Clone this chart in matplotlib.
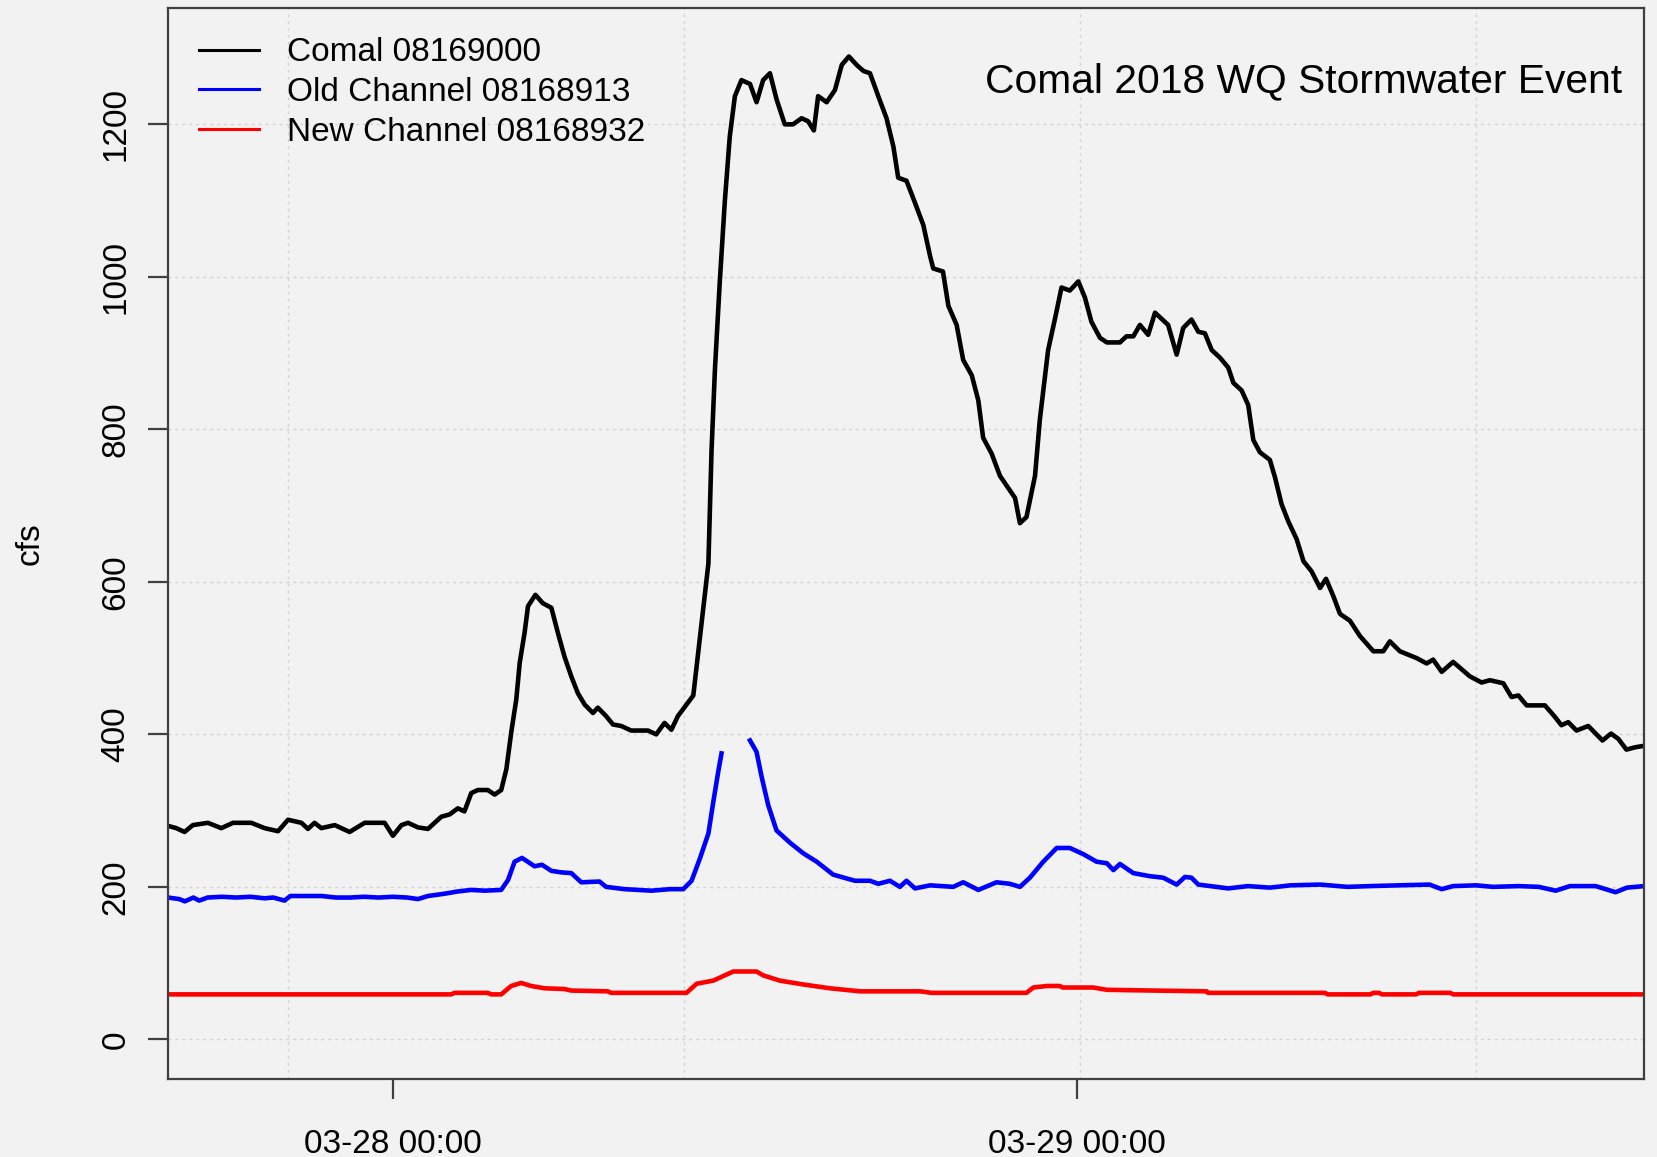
import numpy as np
import matplotlib
matplotlib.use("Agg")
import matplotlib.pyplot as plt

plt.rcParams['font.family'] = ['Liberation Sans', 'DejaVu Sans']

# hours relative to 03-28 00:00 (local), flow in cfs
comal_h = [-7.89, -7.6, -7.31, -7.02, -6.49, -6.02, -5.61, -4.97, -4.5, -4.03, -3.68, -3.21, -2.98,
           -2.75, -2.51, -2.04, -1.52, -0.99, -0.29, 0.0, 0.3, 0.53, 0.88, 1.23, 1.7, 1.99, 2.28,
           2.51, 2.75, 2.98, 3.33, 3.57, 3.8, 3.98, 4.15, 4.33, 4.45, 4.62, 4.74, 5.0, 5.26, 5.56,
           5.79, 6.02, 6.26, 6.49, 6.73, 7.02, 7.19, 7.48, 7.72, 8.01, 8.36, 8.95, 9.24, 9.53, 9.77,
           10.0, 10.54, 10.89, 11.07, 11.18, 11.30, 11.47, 11.65, 11.82, 12.0, 12.23, 12.53, 12.76,
           12.99, 13.23, 13.46, 13.75, 14.04, 14.34, 14.57, 14.77, 14.92, 15.22, 15.51, 15.75, 16.0,
           16.27, 16.51, 16.74, 17.03, 17.32, 17.56, 17.73, 18.02, 18.32, 18.61, 18.85, 18.96, 19.3,
           19.49, 19.78, 20.01, 20.31, 20.54, 20.71, 21.01, 21.3, 21.59, 21.83, 22.0, 22.23, 22.53,
           22.7, 22.99, 23.23, 23.46, 23.75, 24.05, 24.28, 24.51, 24.81, 25.05, 25.51, 25.74, 25.98,
           26.21, 26.5, 26.74, 26.97, 27.2, 27.5, 27.73, 28.02, 28.26, 28.49, 28.73, 29.02, 29.31,
           29.49, 29.78, 30.01, 30.19, 30.42, 30.77, 30.95, 31.18, 31.42, 31.71, 31.95, 32.23, 32.53,
           32.74, 33.0, 33.23, 33.58, 33.93, 34.40, 34.75, 34.98, 35.33, 35.92, 36.27, 36.5, 36.8,
           37.2, 37.79, 38.2, 38.49, 38.96, 39.25, 39.49, 39.78, 40.42, 40.77, 41.0, 41.24, 41.53,
           41.94, 42.44, 42.74, 43.0, 43.28, 43.58, 43.9]
comal_cfs = [280, 277, 272, 281, 284, 277, 284, 284, 277, 273, 288, 284, 276,
             284, 277, 281, 272, 284, 284, 267, 281, 284, 278, 276, 292, 295, 303,
             299, 323, 327, 327, 321, 327, 354, 402, 446, 494, 533, 568, 583, 572, 566,
             533, 502, 476, 454, 439, 428, 435, 424, 413, 411, 405, 405, 400, 415, 406,
             424, 451, 566, 624, 772, 879, 994, 1101, 1184, 1237, 1258, 1253, 1229,
             1258, 1267, 1233, 1200, 1200, 1208, 1204, 1192, 1237, 1229, 1245, 1278, 1289,
             1278, 1270, 1267, 1237, 1208, 1171, 1130, 1126, 1097, 1068, 1027, 1011, 1007,
             962, 937, 891, 871, 838, 789, 768, 739, 723, 710, 677, 685, 739,
             813, 904, 945, 986, 982, 994, 973, 941, 920, 914, 914, 922, 922,
             937, 924, 953, 945, 937, 898, 933, 944, 928, 926, 904, 894, 881,
             861, 851, 832, 786, 770, 760, 737, 702, 679, 656, 627, 614, 592,
             604, 581, 558, 549, 529, 509, 509, 522, 509, 500, 493, 498, 482,
             495, 476, 468, 471, 467, 449, 451, 438, 438, 423, 412, 416, 405,
             411, 392, 401, 394, 380, 383, 385]

old_h = [-7.89, -7.5, -7.3, -7.0, -6.8, -6.5, -6.0, -5.5, -5.0, -4.5, -4.2, -3.8, -3.6, -3.0,
         -2.5, -2.0, -1.5, -1.0, -0.5, 0.0, 0.5, 0.88, 1.23, 1.81, 2.28, 2.75, 3.22, 3.8, 4.04,
         4.27, 4.53, 4.97, 5.23, 5.56, 5.91, 6.26, 6.61, 7.25, 7.48, 8.13, 9.07, 9.72, 10.19,
         10.48, 10.77, 11.07, 11.24, 11.42, 11.53, 12.0, 12.53, 12.76, 12.94, 13.17, 13.46,
         13.93, 14.4, 14.87, 15.45, 16.21, 16.74, 17.03, 17.44, 17.79, 18.02, 18.32, 18.85,
         19.66, 20.01, 20.54, 21.18, 21.65, 22.0, 22.35, 22.82, 23.29, 23.75, 24.22, 24.69,
         25.05, 25.28, 25.51, 25.98, 26.56, 27.03, 27.5, 27.79, 28.02, 28.26, 29.31, 30.0,
         30.77, 31.5, 32.53, 33.5, 34.28, 35.3, 36.37, 36.8, 37.2, 38.0, 38.6, 39.5, 40.2,
         40.8, 41.3, 42.2, 42.9, 43.3, 43.9]
old_cfs = [186, 184, 181, 186, 182, 186, 187, 186, 187, 185, 186, 182, 188, 188,
           188, 186, 186, 187, 186, 187, 186, 184, 188, 191, 194, 196, 195, 196, 209,
           233, 238, 227, 229, 221, 219, 218, 206, 207, 200, 197, 195, 197, 197,
           208, 237, 270, 311, 352, 375, np.nan, 392, 377, 344, 307, 274,
           258, 244, 233, 216, 208, 208, 204, 208, 200, 208, 198, 202,
           200, 206, 196, 206, 204, 200, 212, 233, 251, 251, 243, 233,
           231, 222, 230, 218, 214, 212, 203, 213, 212, 203, 198, 201,
           199, 202, 203, 200, 201, 202, 203, 197, 201, 202, 200, 201, 200,
           195, 201, 201, 193, 199, 201]

new_h = [-7.89, 2.05, 2.16, 3.33, 3.45, 3.8, 4.15, 4.5, 4.85, 5.32, 6.02, 6.26, 7.54, 7.66,
         10.3, 10.66, 11.24, 11.94, 12.76, 12.99, 13.58, 14.4, 15.33, 16.39, 18.5, 18.9,
         22.23, 22.47, 22.94, 23.4, 23.5, 24.57, 25.05, 26.68, 28.55, 28.6, 32.7, 32.8,
         34.3, 34.4, 34.6, 34.7, 35.9, 36.0, 37.1, 37.2, 43.9]
new_cfs = [59, 59, 61, 61, 59, 59, 70, 74, 70, 67, 66, 64, 63, 61,
           61, 73, 77, 89, 89, 84, 77, 72, 67, 63, 63, 61,
           61, 68, 70, 70, 68, 68, 65, 64, 63, 61, 61, 59,
           59, 61, 61, 59, 59, 61, 61, 59, 59]

series_labels = ['Comal 08169000', 'Old Channel 08168913', 'New Channel 08168932']
series_colors = ['black', 'blue', 'red']
x_tick_hours = [0, 24]
x_tick_labels = ['03-28 00:00', '03-29 00:00']
y_ticks = [0, 200, 400, 600, 800, 1000, 1200]
title = 'Comal 2018 WQ Stormwater Event'

bg = '#f2f2f2'
fig = plt.figure(figsize=(16.57, 11.57), dpi=100, facecolor=bg)
ax = fig.add_axes([0.1014, 0.0674, 0.8908, 0.9253], facecolor=bg)

# R-style grid: vertical lines every 50000 s of epoch time (offset 3.667 h from local midnight)
grid_x = np.arange(-13200, 44 * 3600, 50000) / 3600.0
for gx in grid_x:
    ax.axvline(gx, color='#d3d3d3', lw=1.0, ls=(0, (2, 3)), zorder=0)
for gy in y_ticks:
    ax.axhline(gy, color='#d3d3d3', lw=1.0, ls=(0, (2, 3)), zorder=0)

for h, v, c, lab in zip([comal_h, old_h, new_h], [comal_cfs, old_cfs, new_cfs],
                        series_colors, series_labels):
    ax.plot(h, v, color=c, lw=3.3, label=lab)

ax.set_xlim(comal_h[0], comal_h[-1])
ax.set_ylim(-52, 1352)
ax.set_xticks(x_tick_hours)
ax.set_xticklabels(x_tick_labels)
ax.set_yticks(y_ticks)
ax.set_yticklabels([str(t) for t in y_ticks], rotation=90, va='center')

for s in ax.spines.values():
    s.set_color('#404040')
    s.set_linewidth(1.6)
ax.tick_params(axis='both', length=14.4, width=1.6, color='#404040', labelsize=24)
ax.tick_params(axis='x', pad=21.5)
ax.tick_params(axis='y', pad=12)

ax.set_ylabel('cfs', fontsize=24)
ax.yaxis.set_label_coords(-0.083, 0.5)

ax.text(0.985, 0.932, title, transform=ax.transAxes, ha='right', va='center', fontsize=29.3)

leg = ax.legend(loc='upper left', bbox_to_anchor=(0.021, 0.973), frameon=False, fontsize=24,
                handlelength=1.8, handletextpad=0.85, labelspacing=0.26, borderpad=0,
                borderaxespad=0)
for ln in leg.get_lines():
    ln.set_linewidth(2.2)

fig.savefig('out.png', dpi=100, facecolor=bg)
